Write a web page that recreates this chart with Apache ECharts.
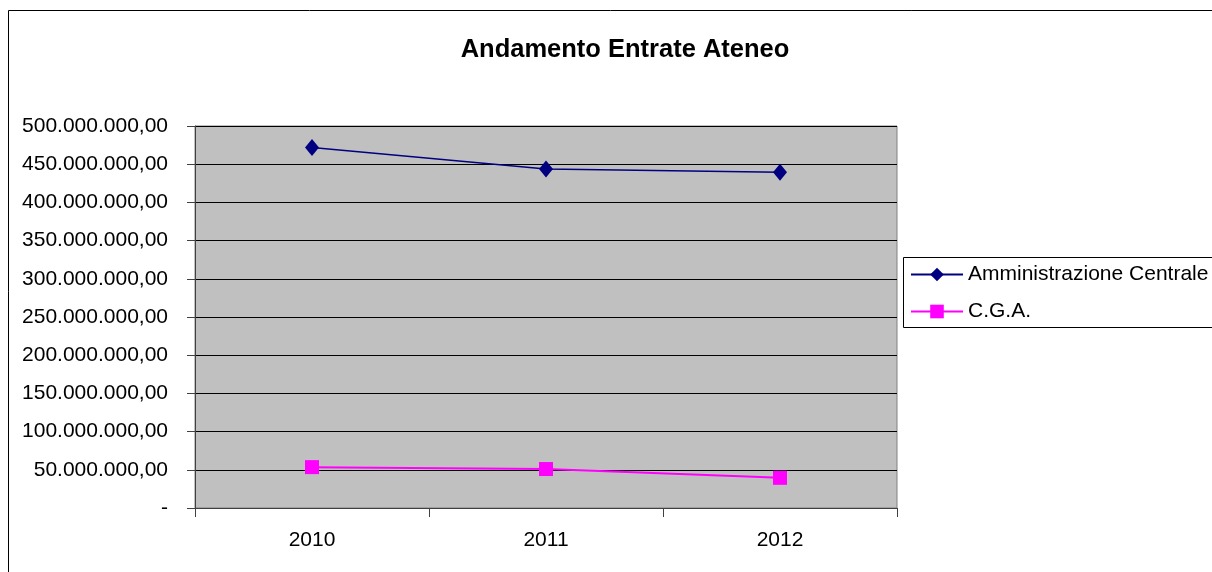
<!DOCTYPE html>
<html>
<head>
<meta charset="utf-8">
<script src="https://cdn.jsdelivr.net/npm/echarts@6/dist/echarts.min.js"></script>
<style>
  html, body { margin: 0; padding: 0; background: #fff; }
  #chart { width: 1212px; height: 572px; }
</style>
</head>
<body>
<div id="chart"></div>
<script>
// categorie e valori
const anni = ["2010", "2011", "2012"];
const amministrazioneCentrale = [472000000, 443800000, 439500000];
const cga = [53500000, 51000000, 39500000];
const nomiSerie = ["Amministrazione Centrale", "C.G.A."];

function formatEuro(v) {
  if (v === 0) return "-";
  const parts = Math.round(v).toString().replace(/\B(?=(\d{3})+(?!\d))/g, ".");
  return parts + ",00";
}

const chart = echarts.init(document.getElementById("chart"));
const font = "Liberation Sans, Arial, sans-serif";

chart.setOption({
  animation: false,
  textStyle: { fontFamily: font },
  title: {
    text: "Andamento Entrate Ateneo",
    left: 620,
    textAlign: "center",
    top: 32,
    textStyle: { fontSize: 25.5, fontWeight: "bold", color: "#000", fontFamily: font }
  },
  grid: {
    left: 195, right: 315, top: 126, bottom: 64,
    show: true,
    backgroundColor: "#C0C0C0",
    borderColor: "#808080",
    borderWidth: 1
  },
  legend: {
    orient: "vertical",
    left: 903,
    top: 264,
    padding: [0, 0, 0, 7],
    itemGap: 16,
    itemWidth: 52,
    itemHeight: 17,
    data: nomiSerie,
    textStyle: { fontSize: 21, color: "#000", fontFamily: font }
  },
  xAxis: {
    type: "category",
    data: anni,
    boundaryGap: true,
    axisLine: { lineStyle: { color: "#404040", width: 1 } },
    axisTick: { show: true, length: 9, inside: false, lineStyle: { color: "#404040" } },
    axisLabel: { fontSize: 21, color: "#000", margin: 22, fontFamily: font },
    splitLine: { show: false }
  },
  yAxis: {
    type: "value",
    min: 0,
    max: 500000000,
    interval: 50000000,
    axisLine: { show: true, lineStyle: { color: "#404040", width: 1 } },
    axisTick: { show: true, length: 8, lineStyle: { color: "#404040" } },
    axisLabel: { fontSize: 21, color: "#000", margin: 27, formatter: formatEuro, fontFamily: font },
    splitLine: { show: true, lineStyle: { color: "#000", width: 1 } }
  },
  series: [
    {
      name: nomiSerie[0],
      type: "line",
      data: amministrazioneCentrale,
      symbol: "diamond",
      symbolSize: [14, 17],
      lineStyle: { color: "#000080", width: 1.5 },
      itemStyle: { color: "#000080" }
    },
    {
      name: nomiSerie[1],
      type: "line",
      data: cga,
      symbol: "rect",
      symbolSize: [14, 14],
      lineStyle: { color: "#FF00FF", width: 2 },
      itemStyle: { color: "#FF00FF" }
    }
  ],
  graphic: [
    {
      type: "rect",
      shape: { x: 8.5, y: 10.5, width: 1230, height: 600 },
      style: { fill: "none", stroke: "#000", lineWidth: 1 },
      silent: true
    },
    {
      type: "rect",
      shape: { x: 903.5, y: 257.5, width: 330, height: 70 },
      style: { fill: "none", stroke: "#000", lineWidth: 1 },
      silent: true
    }
  ]
});
</script>
</body>
</html>
